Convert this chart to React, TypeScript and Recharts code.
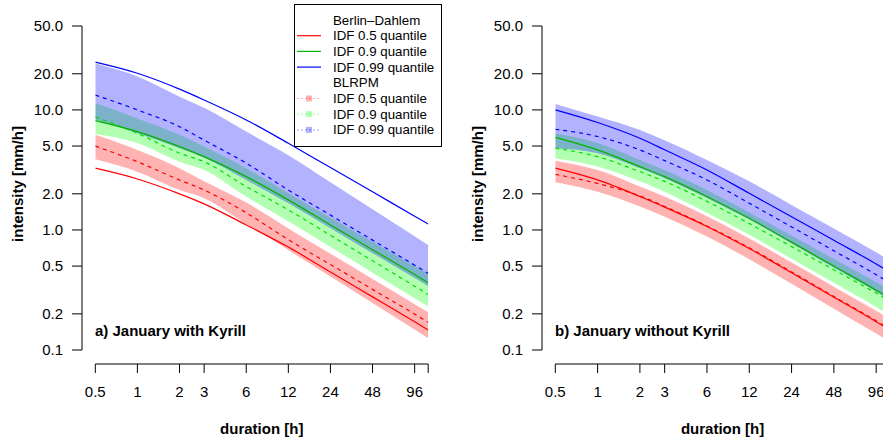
import React from 'react';
import { ComposedChart, Area, Line, XAxis, YAxis, Legend } from 'recharts';

// ---------- data ----------
const durations = [0.5, 1, 2, 3, 6, 12, 24, 48, 96, 120];
const durationTicks = [0.5, 1, 2, 3, 6, 12, 24, 48, 96, 120];
const durationTickLabels = ['0.5', '1', '2', '3', '6', '12', '24', '48', '96', ''];
const intensityTicks = [0.1, 0.2, 0.5, 1, 2, 5, 10, 20, 50];
const intensityTickLabels = ['0.1', '0.2', '0.5', '1.0', '2.0', '5.0', '10.0', '20.0', '50.0'];

// a) January with Kyrill — Berlin-Dahlem observed IDF
const aObs50 = [3.27, 2.66, 2.0, 1.65, 1.1, 0.72, 0.446, 0.277, 0.172, 0.147];
const aObs90 = [8.15, 6.6, 4.95, 4.08, 2.78, 1.78, 1.1, 0.685, 0.425, 0.364];
const aObs99 = [25, 20.2, 14.9, 12.1, 8.25, 5.27, 3.31, 2.08, 1.3, 1.12];
// a) BLRPM medians and ranges
const aMed50 = [5.0, 3.7, 2.61, 2.15, 1.39, 0.83, 0.515, 0.32, 0.199, 0.17];
const aLo50 = [3.88, 3.06, 2.15, 1.84, 1.12, 0.68, 0.409, 0.246, 0.148, 0.125];
const aHi50 = [6.2, 4.64, 3.27, 2.54, 1.69, 1.03, 0.635, 0.391, 0.241, 0.206];
const aMed90 = [8.74, 6.38, 4.36, 3.7, 2.3, 1.47, 0.902, 0.554, 0.34, 0.29];
const aLo90 = [6.3, 5.3, 3.7, 3.16, 1.9, 1.18, 0.722, 0.441, 0.27, 0.23];
const aHi90 = [11.4, 8.5, 6.2, 4.95, 3.27, 2.02, 1.27, 0.797, 0.5, 0.43];
const aMed99 = [13.3, 10, 7.25, 5.6, 3.6, 2.15, 1.33, 0.823, 0.509, 0.435];
const aLo99 = [8.3, 6.38, 4.8, 4.0, 2.61, 1.67, 1.035, 0.641, 0.397, 0.34];
const aHi99 = [24.3, 19, 12.9, 10.4, 6.6, 4.2, 2.5, 1.49, 0.888, 0.75];

// b) January without Kyrill — Berlin-Dahlem observed IDF
const bObs50 = [3.27, 2.61, 1.9, 1.55, 1.07, 0.7, 0.44, 0.275, 0.172, 0.147];
const bObs90 = [5.9, 4.64, 3.37, 2.78, 1.9, 1.25, 0.792, 0.5, 0.315, 0.269];
const bObs99 = [10.0, 7.85, 5.8, 4.65, 3.16, 2.02, 1.289, 0.82, 0.521, 0.446];
// b) BLRPM medians and ranges
const bMed50 = [2.9, 2.44, 1.92, 1.57, 1.08, 0.71, 0.447, 0.279, 0.175, 0.149];
const bLo50 = [2.5, 2.08, 1.57, 1.29, 0.88, 0.57, 0.356, 0.221, 0.137, 0.117];
const bHi50 = [3.78, 3.16, 2.3, 1.9, 1.3, 0.85, 0.536, 0.337, 0.212, 0.181];
const bMed90 = [4.8, 4.08, 3.06, 2.54, 1.73, 1.13, 0.726, 0.466, 0.298, 0.256];
const bLo90 = [3.96, 3.37, 2.54, 2.08, 1.39, 0.91, 0.575, 0.3625, 0.2285, 0.195];
const bHi90 = [6.4, 5.3, 3.83, 3.16, 2.15, 1.4, 0.897, 0.573, 0.366, 0.3135];
const bMed99 = [6.9, 6.0, 4.64, 3.78, 2.61, 1.67, 1.06, 0.67, 0.424, 0.362];
const bLo99 = [4.8, 4.36, 3.27, 2.7, 1.84, 1.22, 0.77, 0.484, 0.305, 0.26];
const bHi99 = [11.2, 8.8, 6.8, 5.6, 3.83, 2.54, 1.617, 1.026, 0.651, 0.557];

const legendLabels = ['Berlin–Dahlem', 'IDF 0.5 quantile', 'IDF 0.9 quantile', 'IDF 0.99 quantile', 'BLRPM', 'IDF 0.5 quantile', 'IDF 0.9 quantile', 'IDF 0.99 quantile'];

// ---------- styles ----------
const RED = '#FF0000';
const GREEN_OBS = '#00B400';
const GREEN_MED = '#00E000';
const GREEN_FILL = '#00FF00';
const BLUE = '#0000FF';
const BAND_OPACITY = 0.3;
const FONT = '"Liberation Sans", Arial, Helvetica, sans-serif';

type Row = {
  d: number;
  obs50: number; obs90: number; obs99: number;
  med50: number; med90: number; med99: number;
  band50: [number, number]; band90: [number, number]; band99: [number, number];
};

function buildRows(
  obs50: number[], obs90: number[], obs99: number[],
  med50: number[], lo50: number[], hi50: number[],
  med90: number[], lo90: number[], hi90: number[],
  med99: number[], lo99: number[], hi99: number[],
): Row[] {
  return durations.map((d, i) => ({
    d,
    obs50: obs50[i], obs90: obs90[i], obs99: obs99[i],
    med50: med50[i], med90: med90[i], med99: med99[i],
    band50: [lo50[i], hi50[i]],
    band90: [lo90[i], hi90[i]],
    band99: [lo99[i], hi99[i]],
  }));
}

const rowsA = buildRows(aObs50, aObs90, aObs99, aMed50, aLo50, aHi50, aMed90, aLo90, aHi90, aMed99, aLo99, aHi99);
const rowsB = buildRows(bObs50, bObs90, bObs99, bMed50, bLo50, bHi50, bMed90, bLo90, bHi90, bMed99, bLo99, bHi99);

const fmtDuration = (v: number) => {
  const i = durationTicks.indexOf(v);
  return i >= 0 ? durationTickLabels[i] : String(v);
};
const fmtIntensity = (v: number) => {
  const i = intensityTicks.indexOf(v);
  return i >= 0 ? intensityTickLabels[i] : String(v);
};

const legendKinds = [
  { kind: 'head', color: '' },
  { kind: 'line', color: RED },
  { kind: 'line', color: GREEN_OBS },
  { kind: 'line', color: BLUE },
  { kind: 'head', color: '' },
  { kind: 'band', color: RED },
  { kind: 'band', color: GREEN_FILL },
  { kind: 'band', color: BLUE },
];

function LegendBox() {
  return (
    <svg width={148} height={143} style={{ display: 'block', fontFamily: FONT }}>
      <rect x={0.5} y={0.5} width={147} height={142} fill="#fff" stroke="#000" strokeWidth={1} />
      {legendLabels.map((label, i) => {
        const y = 16 + 15.7 * i;
        const k = legendKinds[i];
        return (
          <g key={i}>
            {k.kind === 'line' && (
              <line x1={3} x2={27} y1={y} y2={y} stroke={k.color} strokeWidth={1.2} />
            )}
            {k.kind === 'band' && (
              <g>
                <line x1={3} x2={27} y1={y} y2={y} stroke={k.color} strokeOpacity={BAND_OPACITY} strokeWidth={1.2} strokeDasharray="2 2" />
                <rect x={12} y={y - 3} width={6} height={6} fill={k.color} fillOpacity={BAND_OPACITY} />
              </g>
            )}
            <text x={39} y={y} dominantBaseline="central" fontSize={13.3} fill="#000">{label}</text>
          </g>
        );
      })}
    </svg>
  );
}

type PanelProps = {
  rows: Row[];
  left: number;
  plotLeft: number;
  plotRight: number;
  axisX: number;
  yTitleOffset: number;
  showLegend: boolean;
};

function Panel({ rows, left, plotLeft, plotRight, axisX, yTitleOffset, showLegend }: PanelProps) {
  const W = 450;
  return (
    <>
      <div style={{ position: 'absolute', left, top: 0 }}>
        <ComposedChart
          width={W}
          height={441}
          data={rows}
          margin={{ top: 26, right: W - plotRight, bottom: 37, left: plotLeft }}
        >
          <XAxis
            dataKey="d"
            type="number"
            scale="log"
            domain={[0.5, 120]}
            allowDataOverflow
            ticks={durationTicks}
            interval={0}
            tickFormatter={fmtDuration}
            tickSize={9}
            tickMargin={13}
            height={40}
            stroke="#000"
            tick={{ fill: '#000', fontSize: 15 }}
            label={{ value: 'duration [h]', position: 'bottom', offset: 19, style: { fontWeight: 'bold', fontSize: 15, fill: '#000' } }}
          />
          <YAxis
            type="number"
            scale="log"
            domain={[0.1, 50]}
            allowDataOverflow
            hide
            padding={{ top: 0, bottom: 14 }}
          />
          <Area dataKey="band50" type="monotone" stroke="none" fill={RED} fillOpacity={BAND_OPACITY} isAnimationActive={false} />
          <Area dataKey="band90" type="monotone" stroke="none" fill={GREEN_FILL} fillOpacity={BAND_OPACITY} isAnimationActive={false} />
          <Area dataKey="band99" type="monotone" stroke="none" fill={BLUE} fillOpacity={BAND_OPACITY} isAnimationActive={false} />
          <Line dataKey="med50" type="monotone" stroke={RED} strokeWidth={1.2} strokeDasharray="4 4" dot={false} isAnimationActive={false} />
          <Line dataKey="med90" type="monotone" stroke={GREEN_MED} strokeWidth={1.2} strokeDasharray="4 4" dot={false} isAnimationActive={false} />
          <Line dataKey="med99" type="monotone" stroke={BLUE} strokeWidth={1.2} strokeDasharray="4 4" dot={false} isAnimationActive={false} />
          <Line dataKey="obs50" type="monotone" stroke={RED} strokeWidth={1.2} dot={false} isAnimationActive={false} />
          <Line dataKey="obs90" type="monotone" stroke={GREEN_OBS} strokeWidth={1.2} dot={false} isAnimationActive={false} />
          <Line dataKey="obs99" type="monotone" stroke={BLUE} strokeWidth={1.2} dot={false} isAnimationActive={false} />
          {showLegend && (
            <Legend
              layout="horizontal"
              verticalAlign="middle"
              align="center"
              content={() => <LegendBox />}
              wrapperStyle={{ left: 294, top: 4, width: 148, height: 143 }}
            />
          )}
        </ComposedChart>
      </div>
      <div style={{ position: 'absolute', left, top: 0 }}>
        <ComposedChart
          width={axisX + 10}
          height={441}
          data={rows}
          margin={{ top: 26, right: 0, bottom: 91, left: 0 }}
        >
          <XAxis dataKey="d" type="number" scale="log" domain={[0.5, 120]} allowDataOverflow hide />
          <YAxis
            type="number"
            scale="log"
            domain={[0.1, 50]}
            allowDataOverflow
            ticks={intensityTicks}
            interval={0}
            tickFormatter={fmtIntensity}
            width={axisX}
            tickSize={10}
            tickMargin={9}
            stroke="#000"
            tick={{ fill: '#000', fontSize: 15 }}
            label={{
              value: 'intensity [mm/h]',
              angle: -90,
              position: 'insideLeft',
              offset: yTitleOffset,
              dy: -4,
              style: { textAnchor: 'middle', fontWeight: 'bold', fontSize: 15, fill: '#000' },
            }}
          />
          <Line dataKey="obs50" stroke="none" dot={false} isAnimationActive={false} />
        </ComposedChart>
      </div>
    </>
  );
}

export default function App() {
  return (
    <div
      style={{
        position: 'absolute',
        left: 0,
        top: 0,
        width: 883,
        height: 441,
        overflow: 'hidden',
        background: '#fff',
        fontFamily: FONT,
      }}
    >
      <Panel rows={rowsA} left={0} plotLeft={95.3} plotRight={428.2} axisX={82} yTitleOffset={18} showLegend={true} />
      <Panel rows={rowsB} left={450} plotLeft={105.3} plotRight={439.8} axisX={92} yTitleOffset={28} showLegend={false} />
      <svg width={883} height={441} style={{ position: 'absolute', left: 0, top: 0, pointerEvents: 'none', fontFamily: FONT }}>
        <text x={95} y={336} fontSize={15} fontWeight="bold" fill="#000">a) January with Kyrill</text>
        <text x={555} y={336} fontSize={15} fontWeight="bold" fill="#000">b) January without Kyrill</text>
      </svg>
    </div>
  );
}
